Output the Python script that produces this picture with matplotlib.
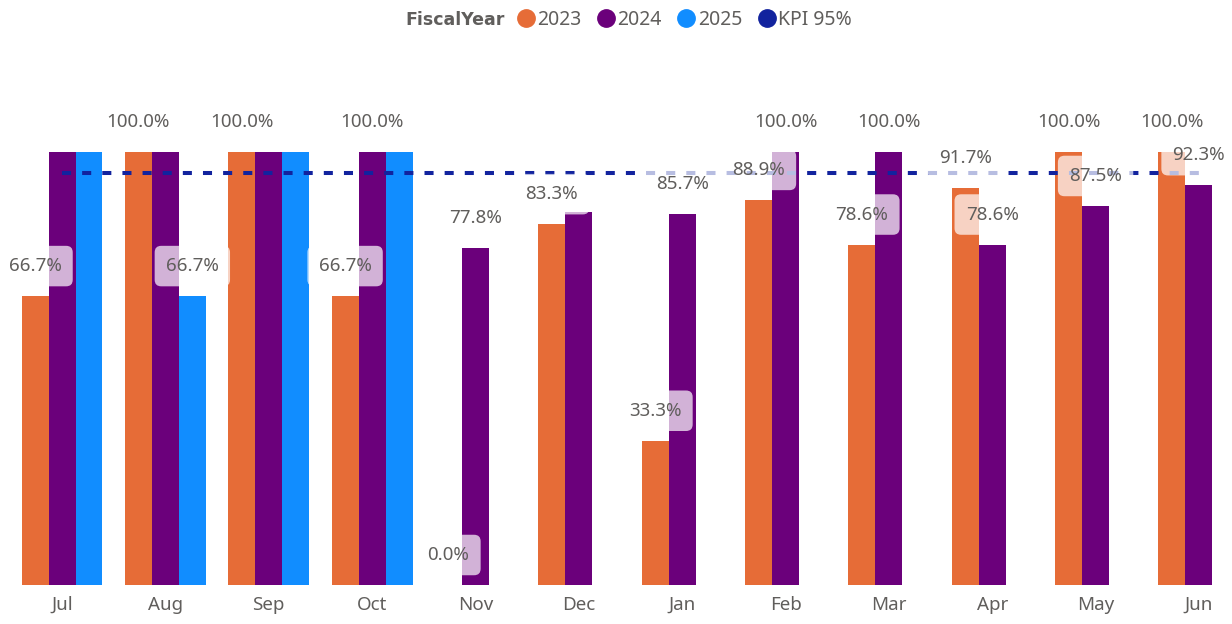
import numpy as np
import matplotlib
matplotlib.use("Agg")
import matplotlib.pyplot as plt
from matplotlib.lines import Line2D

plt.rcParams["font.family"] = ["Noto Sans", "DejaVu Sans"]

months = ["Jul", "Aug", "Sep", "Oct", "Nov", "Dec",
          "Jan", "Feb", "Mar", "Apr", "May", "Jun"]
fy2023 = [66.7, 100.0, 100.0, 66.7, 0.0, 83.3, 33.3, 88.9, 78.6, 91.7, 100.0, 100.0]
fy2024 = [100.0, 100.0, 100.0, 100.0, 77.8, 86.1, 85.7, 100.0, 100.0, 78.6, 87.5, 92.3]
fy2025 = [100.0, 66.7, 100.0, 100.0, np.nan, np.nan, np.nan, np.nan, np.nan, np.nan, np.nan, np.nan]
kpi = [95.0, 95.0, 95.0, 95.0, 95.0, 95.0, 95.0, 95.0, 95.0, 95.0, 95.0, 95.0]

# which data labels Power BI kept visible (others hidden due to overlap)
show_2023 = [True] * 12
show_2024 = [False, False, False, True, True, False, True, True, True, True, True, True]
show_2025 = [False, True, False, False, False, False, False, False, False, False, False, False]

C23, C24, C25, CKPI = "#E66C37", "#6B007B", "#118DFF", "#12239E"
GREY = "#605E5C"

fig = plt.figure(figsize=(12.32, 6.24), dpi=100)
ax = fig.add_axes([0, 39 / 624, 1, 525 / 624])

x = np.arange(len(months))
w = 0.261
series = [(fy2023, C23, -w, show_2023),
          (fy2024, C24, 0.0, show_2024),
          (fy2025, C25, w, show_2025)]

for vals, col, off, show in series:
    v = np.array(vals, dtype=float)
    ax.bar(x + off, np.nan_to_num(v), width=w, color=col, zorder=2)

ax.plot(x, kpi, color=CKPI, lw=2.9, ls=(0, (2.25, 2.75)), zorder=3)

for vals, col, off, show in series:
    for i, val in enumerate(vals):
        if np.isnan(val) or not show[i]:
            continue
        ax.annotate(f"{val:.1f}%", xy=(x[i] + off, val), xytext=(0, 21.6),
                    textcoords="offset points", ha="center", va="center",
                    fontsize=13.5, color=GREY, zorder=5,
                    bbox=dict(boxstyle="round,pad=0.6,rounding_size=0.35",
                              fc="white", ec="none", alpha=0.7))

ax.set_xlim(-0.6, 11.32)
ax.set_ylim(0, 121.2)
ax.set_xticks(x)
ax.set_xticklabels(months, fontsize=13.5, color=GREY)
ax.tick_params(axis="x", length=0, pad=8)
ax.set_yticks([])
for s in ax.spines.values():
    s.set_visible(False)

fig.text(405 / 1232, 1 - 20 / 624, "FiscalYear", fontsize=12.5, fontweight="bold",
         family=["DejaVu Sans"], color=GREY, ha="left", va="center")
handles = [Line2D([], [], ls="none", marker="o", ms=12.5, color=c) for c in (C23, C24, C25, CKPI)]
leg = fig.legend(handles, ["2023", "2024", "2025", "KPI 95%"], loc="center left",
                 bbox_to_anchor=(516 / 1232, 1 - 20 / 624), ncol=4, frameon=False,
                 fontsize=14, handlelength=1.0, handletextpad=0.1,
                 columnspacing=0.75, borderpad=0, borderaxespad=0)
for t in leg.get_texts():
    t.set_color(GREY)

fig.savefig("out.png", dpi=100)
